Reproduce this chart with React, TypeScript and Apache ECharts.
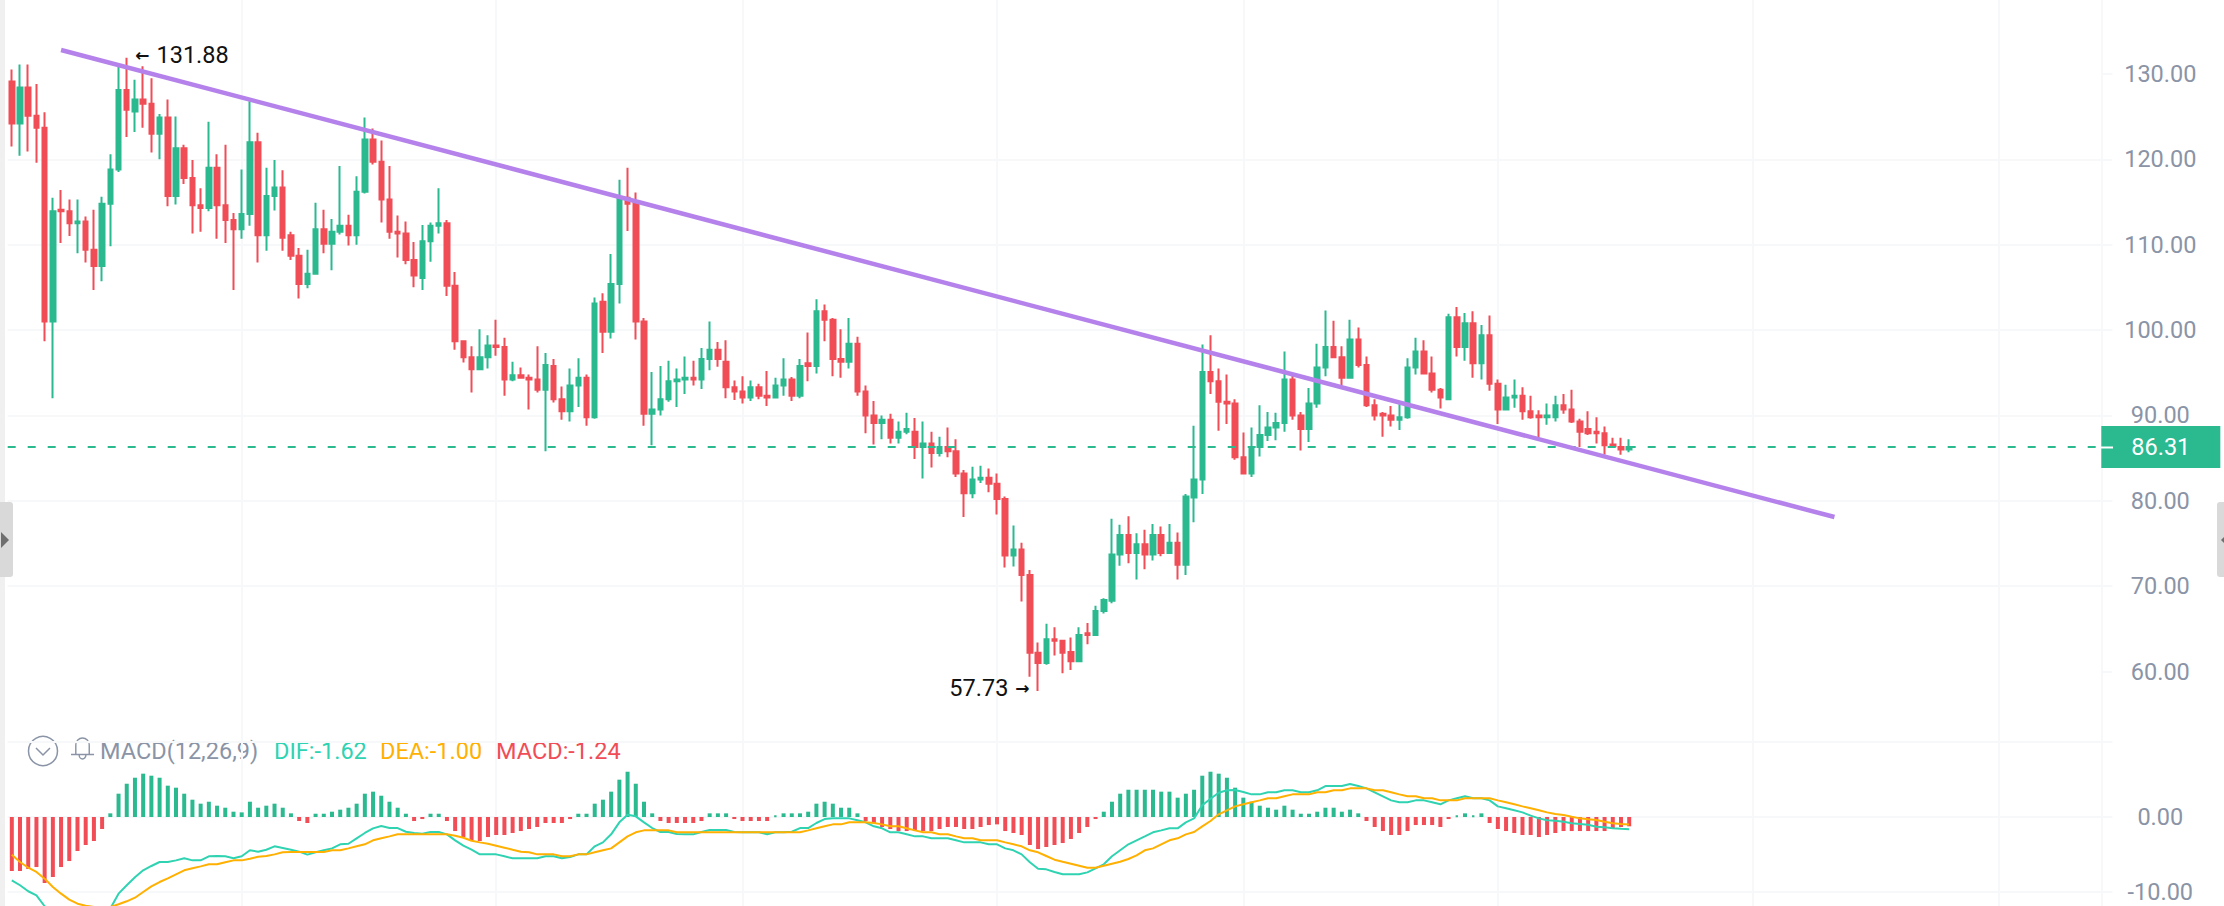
import React, { useEffect, useRef } from 'react';
import * as echarts from 'echarts';

// open, close, low, high
const ohlc: number[][] = [
  [129.1,124.2,121.5,130.5],[124.2,128.4,120.4,131.1],[128.4,125.1,120.9,131.1],[125.1,123.7,119.6,128.8],[123.7,101.0,98.7,125.5],
  [101.0,113.9,92.0,115.5],[114.1,113.9,110.2,116.4],[113.9,112.5,111.0,115.3],[112.5,112.7,109.0,115.3],[112.7,109.4,107.9,113.3],
  [109.4,107.5,104.7,114.1],[107.5,114.8,105.7,115.6],[114.8,118.8,109.8,120.6],[118.8,128.1,118.5,131.1],[128.1,125.8,122.6,131.88],
  [125.6,127.0,123.2,129.3],[127.0,126.5,123.7,130.9],[126.5,123.0,120.8,129.5],[123.0,124.9,120.0,125.3],[124.9,115.7,114.5,127.0],
  [115.7,121.3,114.7,125.0],[121.3,117.8,117.1,121.7],[117.8,114.6,111.3,119.9],[114.6,114.3,111.5,116.6],[114.3,119.0,113.9,124.4],
  [119.0,114.6,110.7,120.6],[114.6,112.9,110.2,121.7],[112.9,111.8,104.7,113.7],[111.8,113.6,110.7,118.8],[113.6,122.0,112.2,126.8],
  [122.0,111.1,107.9,123.1],[111.1,115.7,109.3,119.0],[115.7,116.7,114.0,119.9],[116.7,110.8,109.3,118.7],[111.1,108.7,108.2,111.5],
  [108.7,105.4,103.7,109.6],[105.4,106.6,104.9,109.4],[106.6,111.8,106.5,114.9],[111.8,110.1,109.0,114.1],[110.1,111.5,107.0,113.0],
  [111.5,112.2,111.2,119.2],[112.2,111.1,109.9,113.5],[111.1,116.2,110.0,118.0],[116.2,122.3,116.0,124.9],[122.3,119.7,119.4,123.6],
  [119.7,115.3,112.6,122.2],[115.3,111.5,110.7,119.2],[111.5,111.3,108.5,113.4],[111.3,108.2,107.7,112.7],[108.2,106.4,105.0,110.3],
  [106.1,110.4,104.7,112.3],[110.4,112.2,108.0,112.6],[112.2,112.5,111.3,116.6],[112.5,105.2,104.0,112.9],[105.2,98.7,97.7,106.8],
  [98.7,96.8,96.2,98.8],[96.8,95.4,92.7,98.1],[95.4,96.8,95.3,100.1],[96.8,98.2,95.5,99.4],[98.2,98.0,97.0,101.2],
  [98.0,94.2,92.3,99.1],[94.2,94.7,94.0,96.3],[94.7,94.4,94.3,95.6],[94.4,94.2,90.7,94.8],[94.2,93.0,92.7,98.1],
  [93.0,95.9,85.8,97.3],[95.8,91.9,91.5,96.6],[91.9,90.5,89.5,93.4],[90.5,93.5,89.3,95.5],[93.5,94.4,91.0,96.7],
  [94.4,89.8,88.8,94.8],[89.8,103.1,89.6,103.8],[103.3,99.8,97.3,104.3],[99.8,105.4,99.0,108.9],[105.4,115.5,103.1,117.6],
  [115.5,114.8,111.6,119.0],[115.1,101.0,98.9,116.1],[101.0,90.2,88.8,101.4],[90.2,90.7,86.5,95.1],[90.7,91.9,90.0,95.8],
  [91.9,94.0,91.6,96.4],[94.0,94.2,91.0,95.5],[94.2,94.4,92.5,96.9],[94.4,94.2,93.5,96.4],[94.2,96.6,93.1,97.9],
  [96.6,97.7,95.3,101.0],[97.7,96.6,95.7,98.6],[96.3,93.3,92.0,98.8],[93.3,92.8,91.8,94.1],[92.8,92.1,91.4,94.6],
  [92.1,93.3,91.7,94.1],[93.3,92.3,91.9,93.7],[92.3,92.1,91.1,95.2],[92.1,93.5,92.0,94.4],[93.5,94.2,92.3,96.7],
  [94.2,92.3,91.7,94.5],[92.3,95.8,92.0,96.6],[96.1,95.8,94.0,99.7],[95.8,102.2,94.9,103.6],[102.2,101.2,98.7,103.0],
  [101.2,96.6,94.6,101.4],[96.6,96.3,94.4,100.1],[96.3,98.4,95.5,101.4],[98.4,92.8,92.3,99.2],[92.8,90.0,87.9,93.5],
  [90.0,89.1,86.6,91.7],[89.1,89.5,87.2,90.0],[89.5,87.4,86.7,90.2],[87.4,88.1,86.7,89.3],[88.1,88.4,87.8,90.3],
  [88.1,86.3,84.9,89.7],[86.3,86.7,82.6,89.3],[86.7,85.6,83.9,88.1],[85.6,86.3,85.2,87.5],[86.3,85.8,85.1,88.6],
  [85.8,83.2,82.8,87.2],[83.2,80.9,78.1,83.6],[80.9,82.5,80.3,84.0],[82.5,82.7,82.1,84.1],[82.7,82.0,81.0,83.8],
  [82.0,80.2,78.4,83.2],[80.2,73.6,72.2,80.5],[73.6,74.3,72.3,77.1],[74.3,71.3,68.2,75.1],[71.3,62.2,59.4,71.9],
  [62.2,61.0,57.73,63.4],[61.0,63.8,60.8,65.6],[63.8,63.6,61.9,65.2],[63.6,62.2,59.8,63.7],[62.3,61.2,60.2,64.0],
  [61.2,64.3,61.1,65.2],[64.5,64.3,63.2,65.7],[64.3,67.1,64.2,67.7],[67.1,68.4,66.8,68.6],[68.3,73.7,68.0,77.9],
  [73.7,76.0,72.4,77.2],[76.0,73.9,72.7,78.2],[73.9,74.9,70.8,76.2],[74.9,73.7,72.0,76.6],[73.7,76.0,73.0,77.3],
  [76.0,73.9,73.5,77.0],[73.9,75.1,73.8,77.3],[75.1,72.5,70.8,76.3],[72.5,80.5,71.3,80.8],[80.4,82.5,77.5,88.8],
  [82.5,95.1,80.8,98.3],[95.1,94.0,92.5,99.4],[94.0,91.6,88.2,95.5],[91.6,91.4,89.0,94.8],[91.4,85.1,84.8,91.9],
  [85.1,83.2,83.1,88.0],[83.2,86.3,82.8,88.6],[86.3,87.7,85.2,91.2],[87.7,88.6,87.0,90.4],[88.6,89.1,87.1,90.3],
  [89.1,94.2,88.1,97.5],[94.2,90.0,89.5,94.7],[90.0,88.4,85.9,90.4],[88.4,91.4,86.9,93.2],[91.4,95.6,90.9,98.4],
  [95.6,98.0,94.6,102.3],[98.0,96.8,96.7,101.1],[96.8,94.4,93.5,98.1],[94.4,98.9,94.3,101.2],[98.9,95.9,95.6,100.3],
  [95.9,91.2,91.0,96.9],[91.2,90.0,89.4,91.9],[90.2,90.0,87.5,90.4],[90.0,89.5,88.7,91.1],[89.5,89.8,88.3,91.3],
  [89.8,95.6,89.6,96.7],[95.6,97.5,94.8,99.1],[97.5,94.9,94.8,98.8],[94.9,93.0,92.7,96.9],[93.0,92.1,90.8,93.2],
  [91.9,101.5,91.8,101.9],[101.5,98.0,96.9,102.7],[98.0,100.8,96.4,102.0],[100.8,96.1,94.4,102.2],[96.1,99.4,94.2,100.6],
  [99.4,93.7,92.9,101.7],[93.7,90.7,89.0,94.2],[90.7,92.1,90.6,93.6],[92.1,92.3,90.9,94.2],[92.3,90.5,89.5,93.3],
  [90.5,89.8,89.6,92.3],[90.0,89.8,87.4,90.6],[89.8,90.0,88.9,91.4],[89.8,91.2,89.3,92.3],[91.2,90.7,90.2,92.5],
  [90.7,89.3,89.1,93.0],[89.3,88.1,86.3,89.6],[88.4,87.9,87.7,90.5],[88.1,87.9,86.7,89.8],[87.9,86.5,85.4,88.7],
  [86.6,86.4,86.3,87.4],[86.3,86.0,85.4,87.4],[86.0,86.31,85.7,87.2],
];

const macdHist = [
  -7.2,-7.2,-6.93,-6.67,-8.8,-8.0,-6.67,-5.87,-4.53,-3.73,-3.2,-1.6,0.49,3.11,4.44,5.24,5.78,5.51,5.24,4.18,
  3.91,3.11,2.31,1.78,2.04,1.51,1.24,0.71,0.62,2.04,1.24,1.51,1.78,1.24,0.49,-0.53,-0.8,0.44,0.44,0.71,
  0.98,1.24,1.78,3.11,3.38,2.84,2.04,1.24,0.44,-0.53,-0.27,0.44,0.44,-0.53,-1.87,-2.67,-3.2,-3.2,-2.67,-2.4,
  -2.4,-2.13,-1.87,-1.6,-1.33,-0.8,-0.8,-0.8,-0.27,0.44,0.44,1.78,2.31,3.38,4.98,6.04,4.44,2.04,0.49,-0.53,
  -0.8,-0.8,-0.8,-0.8,-0.53,0.49,0.49,0.49,-0.27,-0.53,-0.53,-0.53,-0.53,0.22,0.49,0.49,0.49,0.71,1.78,2.04,
  1.78,1.24,1.24,0.49,-0.53,-0.8,-1.33,-1.6,-1.87,-1.87,-1.87,-1.87,-1.87,-1.6,-1.33,-1.33,-1.6,-1.6,-1.33,-1.07,
  -0.98,-1.87,-2.13,-2.4,-3.73,-4.27,-4.0,-3.73,-3.47,-2.93,-2.13,-1.33,-0.27,0.71,2.04,3.11,3.64,3.64,3.64,3.64,
  3.38,3.38,2.58,3.11,3.64,5.51,6.04,5.78,5.24,3.91,2.58,2.04,1.51,1.24,0.98,1.51,0.98,0.44,0.44,0.71,
  1.24,1.24,0.71,0.98,0.49,-0.53,-1.33,-1.87,-2.4,-2.4,-1.87,-1.07,-1.07,-1.07,-1.33,-0.27,0.22,0.49,0.22,0.49,
  -0.8,-1.6,-1.87,-2.13,-2.4,-2.4,-2.67,-2.4,-2.13,-1.87,-1.87,-1.87,-1.87,-1.87,-1.87,-1.6,-1.33,-1.24,
];

// bars drawn as outlines, counted from 1
const hollowBars = [
  1,5,14,15,16,17,25,29,30,32,33,37,40,41,42,43,44,45,55,56,57,61,68,72,73,74,75,76,81,82,98,99,100,
  106,107,108,109,111,116,117,121,122,123,124,125,126,134,135,136,137,138,140,144,145,146,147,156,160,161,164,
  167,168,169,170,174,175,181,182,183,184,185,186,187,
];

const dif = [
  -8.44,-9.1,-9.9,-10.44,-11.9,-13.0,-13.8,-14.2,-14.3,-14.0,-13.5,-12.9,-12.2,-10.22,-9.1,-8.04,-7.11,-6.53,-6.0,-6.0,
  -5.78,-5.51,-5.78,-5.78,-5.24,-5.2,-5.24,-5.51,-5.24,-4.44,-4.62,-4.36,-3.91,-4.13,-4.36,-4.62,-5.02,-4.71,-4.44,-4.18,
  -3.64,-3.56,-2.84,-2.13,-1.51,-1.2,-1.47,-1.47,-1.96,-2.13,-2.22,-2.0,-2.0,-2.31,-3.11,-3.82,-4.36,-4.98,-4.98,-4.98,
  -5.24,-5.51,-5.51,-5.51,-5.51,-5.24,-5.24,-5.51,-5.33,-4.98,-4.98,-3.91,-3.38,-2.31,-0.71,0.31,0.09,-0.71,-1.47,-2.0,
  -2.0,-2.27,-2.31,-2.31,-2.0,-1.73,-1.73,-1.73,-2.0,-2.04,-2.04,-2.04,-2.31,-2.04,-2.04,-1.96,-1.47,-1.47,-0.8,-0.27,
  -0.18,-0.18,-0.18,-0.44,-0.71,-1.24,-1.51,-2.04,-2.04,-2.31,-2.58,-2.58,-2.84,-2.84,-2.84,-3.11,-3.38,-3.38,-3.38,-3.64,
  -3.64,-4.18,-4.44,-4.98,-6.04,-6.89,-6.98,-7.33,-7.64,-7.64,-7.64,-7.38,-6.84,-6.31,-5.24,-4.44,-3.64,-3.11,-2.58,-2.04,
  -1.78,-1.51,-1.51,-0.71,-0.18,1.56,2.44,3.24,3.56,3.6,3.33,3.02,3.02,3.29,3.29,3.56,3.56,3.29,3.29,3.56,
  4.13,4.13,4.13,4.4,4.13,3.82,3.29,2.76,2.22,1.96,1.96,2.22,2.22,1.96,1.69,2.22,2.49,2.76,2.49,2.49,
  2.22,1.42,1.16,0.89,0.62,0.18,-0.18,-0.44,-0.49,-0.62,-0.84,-0.93,-1.02,-1.29,-1.38,-1.51,-1.58,-1.62,
];

const dea = [
  -5.02,-6.0,-6.76,-7.33,-8.22,-9.33,-10.22,-11.02,-11.56,-11.82,-12.0,-12.09,-12.0,-11.64,-11.24,-10.76,-10.0,-9.24,-8.67,-8.18,
  -7.64,-7.11,-6.84,-6.58,-6.31,-6.31,-6.04,-5.78,-5.78,-5.56,-5.29,-5.2,-4.98,-4.71,-4.67,-4.67,-4.67,-4.67,-4.67,-4.44,
  -4.44,-4.18,-3.91,-3.64,-3.11,-2.84,-2.58,-2.31,-2.31,-2.31,-2.31,-2.31,-2.31,-2.31,-2.49,-2.76,-3.16,-3.38,-3.56,-3.82,
  -4.09,-4.36,-4.62,-4.71,-4.98,-4.98,-4.98,-5.24,-5.24,-4.98,-4.98,-4.71,-4.44,-4.18,-3.38,-2.58,-2.04,-1.78,-1.78,-1.78,
  -1.78,-2.04,-2.04,-2.04,-2.04,-2.04,-2.04,-2.04,-2.04,-2.04,-2.04,-2.04,-2.04,-2.04,-2.04,-2.04,-2.04,-1.78,-1.51,-1.24,
  -0.98,-0.98,-0.71,-0.71,-0.71,-0.8,-0.98,-1.24,-1.24,-1.51,-1.78,-2.04,-2.04,-2.31,-2.31,-2.58,-2.84,-2.84,-3.11,-3.11,
  -3.11,-3.38,-3.64,-3.91,-4.44,-4.71,-5.2,-5.69,-5.96,-6.22,-6.49,-6.76,-6.76,-6.49,-6.22,-5.96,-5.6,-5.11,-4.44,-4.18,
  -3.64,-3.11,-2.84,-2.31,-2.0,-1.24,-0.53,0.36,0.89,1.42,1.69,1.96,2.22,2.49,2.49,2.76,3.02,3.02,3.02,3.29,
  3.29,3.56,3.56,3.82,3.82,3.82,3.56,3.56,3.29,3.02,2.76,2.76,2.49,2.49,2.22,2.22,2.22,2.49,2.49,2.49,
  2.49,2.22,1.96,1.69,1.42,1.16,0.89,0.62,0.4,0.27,0.04,-0.18,-0.31,-0.4,-0.62,-0.84,-0.93,-1.0,
];

const trendBars = [6, 222];
const trendPrices = [132.8, 78.1];
const lastPrice = 86.31;
const highBar = 14;
const highPrice = 131.88;
const lowBar = 125;
const lowPrice = 57.73;
const gridBars = [28, 59, 89, 120, 150, 181, 212, 242];
const priceTicks = [60, 70, 80, 90, 100, 110, 120, 130];
const macdTicks = [-10, 0, 10];

const totalBars = 255;
const categories = Array.from({ length: totalBars }, (_, i) => String(i + 1));

const GREEN = '#2bb98f';
const RED = '#f04d57';
const GRID = '#f7f8fa';
const MUTED = '#8a94a6';
const FONT = 'Roboto';
const TEXT_SIZE = 23.5;

echarts.graphic.registerShape(
  'bell',
  echarts.graphic.extendPath(
    'M12 1a7 7 0 0 0-7 7v9.5H1 M12 1a7 7 0 0 1 7 7v9.5h4 M0 17.5h24 M8.5 18a3.5 4 0 0 0 7 0',
    {}
  )
);

const headerText = (text: string, x: number, fill: string) => ({
  type: 'text',
  x,
  y: 751,
  style: { text, fill, fontFamily: FONT, fontSize: TEXT_SIZE, verticalAlign: 'middle' },
  silent: true,
});

const xAxisBase = {
  type: 'category',
  data: categories,
  boundaryGap: true,
  axisLine: { show: false },
  axisTick: { show: false },
  axisLabel: { show: false },
  splitLine: {
    show: true,
    alignWithLabel: true,
    interval: (index: number) => gridBars.includes(index),
    lineStyle: { color: GRID, width: 2 },
  },
};

// the arrow glyph is heavier than the figures next to it
const extremeLabelRich = {
  a: { fontFamily: 'DejaVu Sans', fontWeight: 'bold', fontSize: 17, color: '#111' },
  t: { fontFamily: FONT, fontSize: TEXT_SIZE, color: '#111' },
  tr: { fontFamily: FONT, fontSize: TEXT_SIZE, color: '#111', padding: [0, 0, 0, 7] },
  tl: { fontFamily: FONT, fontSize: TEXT_SIZE, color: '#111', padding: [0, 7, 0, 0] },
};

const App: React.FC = () => {
  const chartRef = useRef<HTMLDivElement>(null);

  useEffect(() => {
    if (!chartRef.current) return;
    const chart = echarts.init(chartRef.current, null, { renderer: 'svg' });

    const histData = macdHist.map((v, i) => {
      const color = v >= 0 ? GREEN : RED;
      return {
        value: v,
        itemStyle: {
          color: hollowBars.includes(i + 1) ? '#fff' : color,
          borderColor: color,
          borderWidth: 2,
        },
      };
    });

    const option: any = {
      animation: false,
      backgroundColor: '#fff',
      textStyle: { fontFamily: FONT },
      grid: [
        { left: 7.7, top: 0, width: 2093.6, height: 757 },
        { left: 7.7, top: 731, width: 2093.6, height: 236 },
      ],
      xAxis: [
        { ...xAxisBase, gridIndex: 0 },
        { ...xAxisBase, gridIndex: 1 },
      ],
      yAxis: [
        {
          gridIndex: 0,
          type: 'value',
          position: 'right',
          min: 50,
          max: 138.65,
          interval: 10,
          axisLine: { show: true, lineStyle: { color: GRID, width: 2 } },
          axisTick: { show: true, length: 11, customValues: priceTicks, lineStyle: { color: GRID, width: 2 } },
          splitLine: { show: true, showMinLine: false, showMaxLine: false, lineStyle: { color: GRID, width: 2 } },
          axisLabel: {
            showMinLabel: false,
            showMaxLabel: false,
            margin: 59,
            align: 'center',
            color: MUTED,
            fontFamily: FONT,
            fontSize: TEXT_SIZE,
            formatter: (v: number) => v.toFixed(2),
          },
        },
        {
          gridIndex: 1,
          type: 'value',
          position: 'right',
          min: -20,
          max: 11.47,
          interval: 10,
          axisLine: { show: true, lineStyle: { color: GRID, width: 2 } },
          axisTick: { show: true, length: 11, customValues: macdTicks, lineStyle: { color: GRID, width: 2 } },
          splitLine: { show: true, lineStyle: { color: GRID, width: 2 } },
          axisLabel: {
            margin: 59,
            align: 'center',
            color: MUTED,
            fontFamily: FONT,
            fontSize: TEXT_SIZE,
            formatter: (v: number) => (v === 0 || v === -10 ? v.toFixed(2) : ''),
          },
        },
      ],
      series: [
        {
          name: 'price',
          type: 'candlestick',
          xAxisIndex: 0,
          yAxisIndex: 0,
          data: ohlc,
          barWidth: 5,
          clip: false,
          itemStyle: {
            color: GREEN,
            color0: RED,
            borderColor: GREEN,
            borderColor0: RED,
            borderWidth: 2,
          },
          markLine: {
            silent: true,
            symbol: 'none',
            data: [{ yAxis: lastPrice }],
            lineStyle: { color: GREEN, type: [8, 12], width: 2 },
            label: {
              show: true,
              position: 'end',
              distance: 0,
              formatter: lastPrice.toFixed(2),
              color: '#fff',
              fontFamily: FONT,
              fontSize: TEXT_SIZE,
              backgroundColor: GREEN,
              padding: [9, 30, 9, 30],
            },
          },
          markPoint: {
            silent: true,
            symbol: 'circle',
            symbolSize: 1,
            itemStyle: { color: 'transparent' },
            data: [
              {
                coord: [highBar, highPrice],
                label: {
                  show: true,
                  position: 'right',
                  distance: 8,
                  offset: [0, -3],
                  formatter: '{a|\u2190}{tr|' + highPrice.toFixed(2) + '}',
                  rich: extremeLabelRich,
                },
              },
              {
                coord: [lowBar, lowPrice],
                label: {
                  show: true,
                  position: 'left',
                  distance: 8,
                  offset: [0, -3],
                  formatter: '{tl|' + lowPrice.toFixed(2) + '}{a|\u2192}',
                  rich: extremeLabelRich,
                },
              },
            ],
          },
        },
        {
          name: 'trend',
          type: 'line',
          xAxisIndex: 0,
          yAxisIndex: 0,
          showSymbol: false,
          silent: true,
          z: 5,
          data: trendBars.map((b, i) => [b, trendPrices[i]]),
          lineStyle: { color: '#b482ea', width: 4.5 },
        },
        {
          name: 'MACD',
          type: 'bar',
          xAxisIndex: 1,
          yAxisIndex: 1,
          barWidth: 4,
          data: histData,
        },
        {
          name: 'DIF',
          type: 'line',
          xAxisIndex: 1,
          yAxisIndex: 1,
          showSymbol: false,
          data: dif,
          lineStyle: { color: '#2fd3b2', width: 2 },
        },
        {
          name: 'DEA',
          type: 'line',
          xAxisIndex: 1,
          yAxisIndex: 1,
          showSymbol: false,
          data: dea,
          lineStyle: { color: '#ffb000', width: 2 },
        },
      ],
      graphic: [
        { type: 'rect', shape: { x: 0, y: 0, width: 5, height: 906 }, style: { fill: '#f0f0f0' }, silent: true, z: 10 },
        { type: 'rect', shape: { x: 0, y: 502, width: 13, height: 75, r: [0, 3, 3, 0] }, style: { fill: '#d9d9d9' }, silent: true, z: 11 },
        { type: 'polygon', shape: { points: [[1, 532], [9, 540], [1, 548]] }, style: { fill: '#6e6e6e' }, silent: true, z: 12 },
        { type: 'rect', shape: { x: 2217, y: 502, width: 7, height: 75, r: [3, 0, 0, 3] }, style: { fill: '#d9d9d9' }, silent: true, z: 11 },
        { type: 'polygon', shape: { points: [[2221, 540], [2224, 537], [2224, 543]] }, style: { fill: '#6e6e6e' }, silent: true, z: 12 },
        { type: 'line', shape: { x1: 2101, y1: 447.5, x2: 2113, y2: 447.5 }, style: { stroke: '#fff', lineWidth: 2 }, silent: true, z: 12 },
        { type: 'circle', shape: { cx: 43, cy: 751, r: 14.5 }, style: { fill: 'none', stroke: MUTED, lineWidth: 1.5 }, silent: true },
        { type: 'polyline', shape: { points: [[36, 748], [43, 755], [50, 748]] }, style: { fill: 'none', stroke: MUTED, lineWidth: 1.5 }, silent: true },
        { type: 'bell', x: 71, y: 737, scaleX: 0.96, scaleY: 1, style: { fill: 'none', stroke: MUTED, lineWidth: 1.5 }, silent: true },
        headerText('MACD(12,26,9)', 100, MUTED),
        headerText('DIF:-1.62', 274, '#2fd3b2'),
        headerText('DEA:-1.00', 380, '#ffb000'),
        headerText('MACD:-1.24', 496, RED),
      ],
    };

    chart.setOption(option);
    return () => {
      chart.dispose();
    };
  }, []);

  // taller than the window: the MACD pane runs on below the fold
  return (
    <div
      ref={chartRef}
      style={{ position: 'fixed', left: 0, top: 0, width: 2224, height: 1000, background: '#fff' }}
    />
  );
};

export default App;
